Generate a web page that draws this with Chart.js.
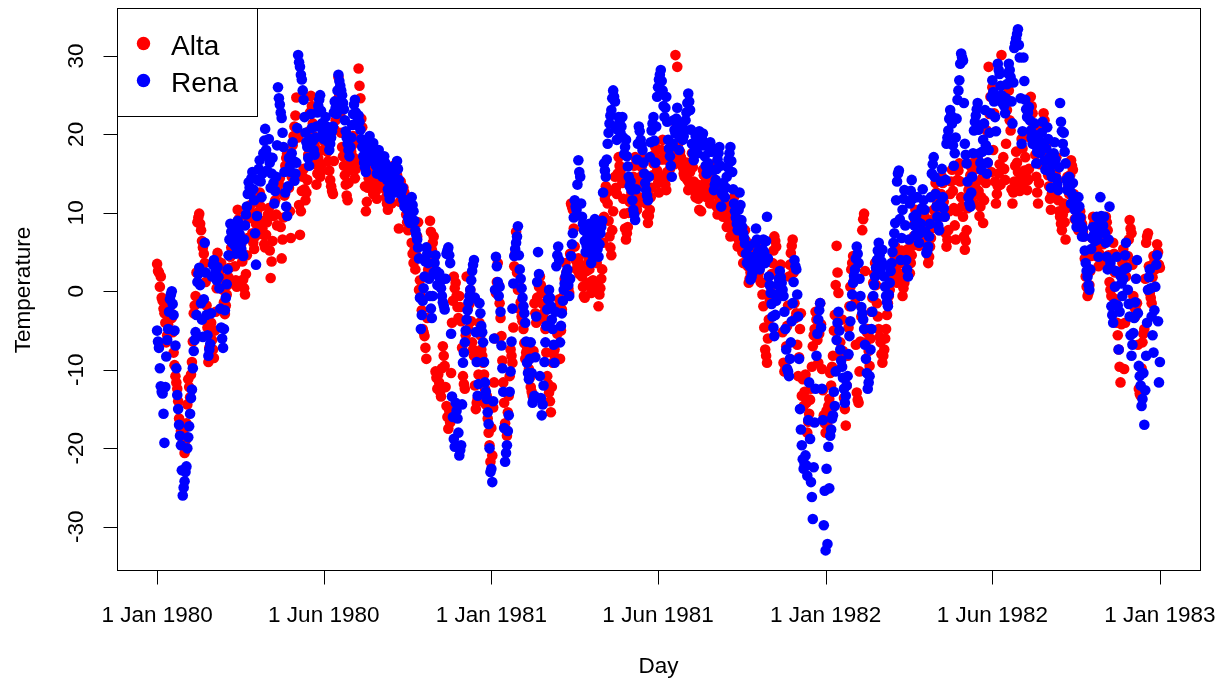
<!DOCTYPE html>
<html>
<head>
<meta charset="utf-8">
<title>Daily temperature: Alta and Rena</title>
<script src="https://cdn.jsdelivr.net/npm/chart.js@4.4.1/dist/chart.umd.min.js"></script>
<style>
  html, body { margin: 0; padding: 0; background: #ffffff; }
  #wrap { width: 1221px; height: 680px; position: relative; }
</style>
</head>
<body>
<div id="wrap"><canvas id="chart" width="1221" height="680"></canvas></div>
<script>
// Daily temperatures at two stations, one reading per day from 1 Jan 1980 to 31 Dec 1982.
const seriesNames = ['Alta', 'Rena'];
const seriesColors = ['#ff0000', '#0000ff'];
const dayStep = 1;

const altaTemps = [
  3.5,2.6, 2.4,0.6, 1.9,-0.8, -1.2,-2.2, -2.8,-4.0, -6.5,-5.6, -4.2,-3.0, -2.0,-1.6, -3.4,-5.2, -7.8,-9.4, -10.8,-11.6,
  -12.4,-14.0, -16.2,-17.0, -17.8,-18.6, -19.3,-17.6, -20.6,-19.0, -16.8,-14.4, -11.2,-12.2, -13.5,-10.6, -9.0,-6.4, -2.8,-1.8, -0.6,2.4,
  8.8,9.4, 9.9,8.6, 7.8,6.4, 5.6,4.8, 3.6,1.2, -1.8,-4.6, -9.0,-7.2, -5.4,-4.0, -6.2,-7.4, -8.5,-5.0, -2.6,0.4,
  4.9,3.8, 2.2,2.9, 3.6,1.6, 0.2,-1.4, -2.9,-1.8, -0.4,0.8, 1.8,3.0, 4.4,5.6, 7.2,6.4, 5.8,3.2, 1.4,0.6,
  10.4,9.2, 8.2,7.0, 6.1,3.8, 1.5,0.4, -0.4,2.2, 4.6,6.8, 9.3,10.2, 11.0,9.6, 7.4,6.2, 5.4,7.0, 8.6,10.0,
  11.4,12.2, 12.6,10.8, 9.0,8.0, 7.2,6.0, 5.6,7.2, 8.8,9.8, 10.6,5.2, 1.7,3.8, 6.4,9.6, 13.0,11.6, 9.8,8.4,
  12.7,13.6, 14.4,8.2, 4.2,6.6, 9.4,12.2, 16.0,17.0, 17.6,15.4, 13.2,10.2, 6.8,14.6, 18.6,19.8, 21.0,22.4, 24.7,20.2,
  19.6,11.0, 7.2,10.2, 12.8,14.6, 15.6,13.0, 11.6,12.6, 14.2,17.4, 20.4,22.8, 24.9,23.6, 21.4,19.8, 18.6,16.2, 13.6,15.0,
  17.0,15.8, 14.6,15.2, 16.2,18.0, 19.2,20.2, 21.0,19.4, 17.8,16.6, 15.4,14.2, 13.4,12.8, 12.4,16.6, 20.6,21.8, 22.7,24.4,
  27.3,25.0, 22.4,20.2, 18.4,17.2, 16.0,14.8, 13.6,12.2, 11.6,13.8, 15.4,16.4, 17.8,18.6, 19.8,17.0, 14.4,15.6, 16.6,19.0,
  28.4,26.2, 24.6,22.0, 20.9,18.4, 16.6,13.4, 10.2,11.4, 13.2,14.4, 15.0,16.2, 17.1,15.2, 12.4,13.6, 14.6,12.8, 11.8,13.4,
  15.6,14.6, 13.8,15.8, 17.0,15.6, 14.4,13.0, 12.0,11.2, 10.4,12.0, 13.2,12.4, 11.2,14.0, 16.0,14.6, 12.8,13.6, 14.8,13.2,
  8.0,11.4, 14.0,12.8, 11.8,13.2, 12.6,11.0, 9.8,8.8, 7.8,9.4, 10.8,8.4, 6.2,4.8, 3.6,5.2, 2.8,4.6, 7.0,8.8,
  0.2,1.4, -0.6,-2.4, -4.8,-5.2, -5.7,-7.2, -8.6,-3.4, 2.8,5.6, 9.0,7.6, 5.3,6.2, 7.0,4.4, -10.2,-11.0, -12.4,-10.6,
  -11.6,-12.8, -13.4,-9.8, -7.0,-8.2, -9.5,-12.2, -14.6,-16.0, -17.5,-15.2, -16.7,-10.4, -4.0,-1.2, 1.9,0.4, 1.1,-0.6, -2.0,-3.4,
  -0.6,-2.0, -3.8,-7.2, -10.8,-11.8, -12.4,-5.6, 1.9,-2.2, -4.8,-1.6, 0.2,-3.8, -6.5,-7.4, -8.2,-12.0, -15.0,-14.2, -13.7,-10.6,
  -4.0,-5.6, -7.4,-8.2, -9.1,-10.6, -12.4,-14.4, -13.3,-16.2, -18.0,-19.6, -21.7,-17.4, -20.9,-14.8, -11.6,-6.0, -0.2,1.2, 3.6,0.8,
  -1.5,-3.4, -5.7,-8.8, -11.6,-14.2, -16.8,-17.6, -18.4,-15.4, -13.3,-10.8, -7.4,-8.2, -9.1,-4.6, 3.2,4.8, 7.6,2.4, 0.2,-2.2,
  0.6,-1.4, -3.2,-3.8, -4.8,-6.6, -8.6,-7.8, -7.4,-8.8, -9.9,-11.0, -12.2,-12.8, -13.3,-7.6, -1.5,-2.8, -4.0,-0.8, 1.2,0.6,
  1.9,0.8, -0.2,-1.6, -2.8,-3.6, -4.8,-7.8, -10.8,-11.8, -12.9,-14.0, -15.4,-12.2, -9.1,-8.0, -7.4,-8.8, -8.6,-5.4, -2.0,-1.0,
  -8.6,-5.0, -2.3,-1.2, -0.6,1.6, 3.6,2.4, 1.2,0.4, -0.2,4.8, 11.2,10.8, 10.4,8.0, 5.7,4.0, 2.8,3.4, 4.2,2.2,
  3.4,2.6, 1.9,0.6, -0.6,-0.8, 0.8,2.6, 4.6,3.8, 2.8,1.2, -0.2,0.4, 1.4,4.2, 7.0,5.4, 3.6,1.0, -1.9,-0.4,
  0.4,1.6, 2.8,6.2, 9.5,11.8, 13.4,12.6, 11.2,9.0, 7.0,5.6, 4.6,7.8, 10.2,12.8, 14.6,13.2, 12.4,15.0, 17.1,16.0,
  15.2,14.4, 13.8,11.8, 9.9,8.0, 6.6,7.4, 8.2,10.0, 11.4,12.0, 12.6,13.8, 14.6,16.0, 17.1,13.6, 10.4,11.2, 12.0,13.6,
  14.6,15.8, 17.1,14.4, 12.0,11.6, 11.2,9.8, 8.7,9.6, 10.4,12.0, 13.2,14.8, 16.3,17.4, 18.4,16.8, 15.4,13.8, 12.6,14.2,
  16.8,18.0, 19.3,16.8, 14.6,13.6, 12.9,15.2, 17.6,16.6, 15.6,17.2, 18.8,18.0, 17.0,16.2, 30.1,21.4, 28.6,20.2, 19.0,17.8,
  17.1,16.2, 15.8,15.0, 14.6,15.6, 16.4,14.2, 12.9,13.8, 15.2,16.4, 17.6,15.8, 14.0,12.8, 12.0,12.6, 13.6,11.8, 10.4,12.2,
  10.2,13.0, 15.5,14.8, 13.8,12.6, 12.0,13.2, 14.6,12.8, 11.2,12.2, 13.0,14.4, 16.2,14.0, 12.4,10.8, 9.8,10.6, 11.6,12.8,
  12.9,11.0, 9.5,10.4, 11.4,9.8, 8.2,9.2, 10.6,8.8, 7.0,8.0, 9.1,10.4, 12.0,10.2, 8.6,7.0, 5.7,6.6, 7.8,6.2,
  6.8,5.0, 3.6,5.8, 7.8,6.4, 5.2,3.2, 1.1,1.6, 2.4,3.8, 4.8,4.2, 3.6,5.0, 6.0,4.0, 1.8,2.4, 3.0,1.2,
  1.1,-0.4, -1.9,-4.6, -7.4,-8.2, -9.1,-6.0, -3.6,-1.2, 0.6,2.2, 3.6,5.2, 7.0,6.4, 5.7,2.6, -0.6,0.8, 2.0,3.4,
  -0.2,-5.2, -9.1,-10.2, -9.5,-7.0, -4.4,-1.8, 1.9,3.4, 4.9,5.8, 6.6,2.4, -1.5,-3.4, -2.8,-6.8, -10.8,-8.4, -4.8,-2.8,
  -13.3,-11.2, -14.6,-12.8, -10.6,-14.2, -18.0,-16.6, -15.6,-13.8, -12.4,-9.6, -7.0,-5.6, -4.8,-2.6, -3.6,-6.2, -9.1,-5.4, -1.5,-4.2,
  -9.9,-12.6, -15.8,-16.8, -18.0,-15.2, -17.1,-14.6, -13.7,-10.4, -12.0,-9.6, -8.2,-5.0, -3.0,0.8, 5.8,2.4, -0.2,-3.6, -6.5,-8.0,
  -3.6,-7.6, -13.6,-15.0, -17.1,-12.0, -8.2,-4.6, -1.9,0.6, 2.8,3.6, 4.5,1.4, -1.5,-6.8, -12.9,-13.8, -14.2,-10.2, -6.4,-3.2,
  7.8,9.2, 9.9,2.6, -6.5,-5.2, -4.8,-7.6, -9.5,-6.0, -2.6,-0.8, 1.1,2.2, 3.6,0.8, -1.5,-3.2, -4.8,-5.8, -6.5,-8.0,
  -9.1,-8.2, -7.4,-6.0, -4.8,-3.0, -1.5,-0.6, 0.2,1.4, 2.2,3.0, 3.6,4.6, 5.7,3.2, 1.1,1.8, 2.3,3.6, 4.4,5.2,
  -0.6,0.4, 1.1,2.4, 3.2,4.4, 5.4,3.8, 2.3,3.6, 4.6,5.8, 7.0,8.6, 10.4,9.2, 8.2,6.8, 5.8,7.4, 9.0,8.0,
  7.0,8.4, 9.6,7.6, 6.2,4.8, 3.6,4.4, 5.7,6.8, 8.0,9.2, 10.4,12.2, 13.8,12.6, 11.2,9.4, 7.8,10.6, 12.4,14.6,
  13.8,11.4, 9.5,7.4, 5.7,6.6, 7.8,10.2, 12.4,14.0, 15.5,12.8, 10.6,8.4, 6.6,10.2, 14.2,15.4, 16.3,14.0, 12.0,10.8,
  9.5,7.0, 5.3,6.4, 7.8,10.6, 12.9,13.6, 14.8,15.8, 16.3,13.4, 11.2,12.4, 13.8,15.6, 17.1,12.8, 9.6,10.8, 12.0,14.4,
  8.7,11.6, 14.6,13.8, 20.5,16.4, 28.6,22.6, 24.8,15.2, 26.0,18.0, 22.7,14.0, 11.2,12.4, 13.4,15.0, 16.2,13.6, 30.1,24.2,
  17.1,15.6, 14.2,18.8, 23.1,24.2, 25.6,21.8, 20.5,13.0, 11.2,12.6, 14.0,16.0, 17.8,16.4, 15.2,13.8, 12.8,14.8, 19.4,18.2,
  13.8,15.4, 17.1,14.6, 12.9,14.2, 15.6,19.6, 24.8,23.6, 22.7,21.2, 20.5,17.4, 14.6,12.6, 11.2,13.8, 16.2,18.6, 21.2,17.6,
  22.7,21.8, 20.9,18.6, 16.4,14.8, 13.4,11.8, 10.4,12.4, 14.6,13.2, 12.2,15.0, 17.1,14.2, 11.6,10.2, 9.5,8.6, 7.8,9.8,
  11.2,8.8, 6.6,10.6, 14.6,13.4, 12.4,14.8, 16.7,16.0, 15.5,12.4, 9.2,10.4, 11.8,9.6, 7.8,8.8, 10.2,9.4, 8.6,7.6,
  7.0,4.2, 1.9,0.6, -0.6,-0.2, 0.8,2.6, 4.5,6.8, 9.5,8.6, 7.8,6.6, 5.6,4.4, 3.2,4.8, 6.2,7.4, 8.4,6.0,
  3.6,6.8, 9.5,8.8, 7.8,4.6, 1.2,0.2, -0.6,2.8, 6.2,4.8, 2.4,-1.0, -4.0,-5.6, -7.4,-9.6, -11.6,-4.2, 3.6,5.4,
  -9.9,-4.0, 1.9,3.2, 4.5,6.6, 9.1,8.0, 7.4,3.4, -0.6,-2.0, -3.2,-2.4, -1.5,-6.8, -12.4,-13.0, -13.3,-9.8, -6.5,-5.4,
  -4.8,1.6, 6.2,7.0, 7.4,3.2, -0.2,-0.8, -1.5,1.8, 4.5,3.8, 2.8,4.6, 6.0,5.0, 3.4,3.0
];

const renaTemps = [
  -5.0,-6.4, -7.2,-9.8, -12.1,-12.8, -13.0,-15.6, -19.3,-12.2, -8.3,-6.2, -4.8,-2.6, -1.0,-0.4, 0.0,-1.6, -3.0,-5.0, -6.9,-9.8,
  -13.2,-15.0, -17.0,-18.4, -19.6,-22.8, -26.0,-25.0, -24.2,-23.0, -22.3,-20.0, -18.6,-17.2, -15.6,-13.6, -12.5,-9.8, -7.6,-6.2, -5.2,-3.0,
  1.2,2.2, 3.0,0.8, -1.5,-3.6, -5.8,-1.0, 6.2,2.4, -3.0,-5.6, -8.2,-7.4, -6.7,-2.8, 1.9,3.4, 4.0,3.2, 2.6,1.4,
  3.1,1.8, 0.4,-2.2, -4.6,-6.0, -7.2,-4.8, -2.4,-0.8, 0.9,2.8, 4.6,6.6, 8.6,7.6, 6.2,6.8, 7.4,5.8, 4.8,6.4,
  9.0,8.2, 7.3,6.0, 5.4,4.8, 4.5,6.6, 8.4,9.8, 10.8,12.4, 13.9,13.2, 12.6,14.4, 15.2,13.0, 11.6,7.4, 3.4,9.6,
  14.2,15.6, 16.7,14.0, 12.0,15.0, 17.6,19.2, 20.7,18.0, 15.4,17.2, 19.4,16.4, 13.2,15.0, 17.0,13.8, 11.2,12.8, 14.6,18.6,
  26.0,24.6, 23.8,22.8, 22.1,20.2, 18.4,15.2, 12.6,10.8, 9.6,13.4, 17.0,16.0, 15.2,17.6, 19.0,16.6, 14.1,15.0, 16.4,20.8,
  30.1,29.2, 28.6,27.6, 27.0,25.6, 24.4,22.2, 20.2,19.0, 18.4,17.0, 16.0,19.4, 22.6,20.8, 19.2,18.0, 17.4,19.6, 21.0,22.8,
  23.6,24.4, 25.0,23.0, 21.4,20.2, 19.4,20.8, 22.2,21.0, 20.3,19.0, 18.0,18.8, 19.6,20.4, 21.0,22.8, 24.2,23.4, 22.6,25.6,
  27.6,26.8, 26.2,25.6, 25.0,24.0, 23.2,21.8, 20.4,19.6, 18.8,18.0, 17.2,18.4, 19.6,21.2, 22.6,23.8, 24.4,22.8, 21.2,22.0,
  22.4,21.6, 20.6,19.4, 18.4,17.2, 16.4,15.8, 15.2,16.6, 17.8,18.8, 19.8,18.2, 16.6,17.6, 18.9,18.0, 17.2,16.0, 15.0,16.2,
  18.0,17.0, 16.2,15.4, 14.6,16.0, 17.2,16.4, 15.4,14.2, 13.0,12.4, 11.8,13.6, 15.8,15.0, 14.2,13.2, 12.6,14.4, 16.6,15.6,
  14.2,13.4, 12.4,12.8, 13.2,11.6, 10.8,11.2, 11.6,10.4, 9.4,9.0, 8.7,10.6, 12.0,11.0, 10.2,9.0, 7.8,7.2, 6.6,5.6,
  4.2,-0.8, -4.8,-3.0, -1.2,0.4, 1.9,3.8, 5.6,4.8, 3.6,1.6, -0.6,-2.2, -3.4,-0.6, 2.4,3.6, 4.6,2.6, 0.8,2.0,
  2.3,1.2, 0.4,-0.6, -1.4,-1.8, -2.3,1.6, 4.8,5.2, 5.6,4.6, 3.6,-5.4, -13.4,-16.0, -18.8,-19.8, -14.2,-15.2, -16.2,-18.0,
  -20.9,-20.2, -19.6,-14.4, -9.1,-7.8, -6.5,-5.0, -3.6,-2.4, -1.4,-0.6, 0.2,1.4, 2.6,3.4, 4.0,-0.8, -5.2,-9.0, -13.3,-11.8,
  -1.5,-2.8, -4.4,-5.2, -6.5,-9.0, -11.6,-12.8, -13.7,-15.4, -16.9,-20.0, -23.0,-22.6, -24.3,-14.0, -6.0,0.2, 4.4,3.2, 1.2,-0.6,
  0.6,-2.6, -6.9,-9.8, -12.8,-17.4, -21.7,-20.6, -19.6,-17.8, -15.8,-12.8, -10.2,-6.4, -2.2,1.0, 4.5,5.4, 6.2,7.0, 8.3,4.6,
  2.8,1.6, 0.4,-0.8, -1.9,-2.8, -4.0,-6.4, -9.1,-10.4, -11.2,-8.6, -6.5,-10.4, -14.2,-13.8, -13.3,-8.4, -3.2,1.2, 5.0,2.2,
  -10.8,-13.6, -15.8,-14.4, -12.0,-9.0, -6.5,-4.4, -2.3,-1.0, 0.2,-0.8, -1.9,-3.6, -4.8,-6.8, -9.1,-2.6, 3.2,4.6, 5.7,4.0,
  -6.5,-4.4, -2.8,-1.2, 0.2,1.0, 1.9,2.4, 2.8,0.8, -0.6,1.6, 4.5,6.0, 7.4,9.4, 11.6,10.8, 10.4,13.6, 16.7,15.2,
  14.6,11.2, 9.5,8.6, 7.8,6.4, 5.0,5.8, 7.0,7.8, 8.6,6.2, 3.6,4.6, 5.7,7.4, 9.2,8.2, 6.4,5.4, 4.4,6.0,
  7.4,8.2, 9.0,12.6, 16.3,15.4, 14.6,16.8, 18.8,20.2, 21.4,22.4, 23.1,24.6, 25.6,24.8, 24.2,21.0, 19.3,20.6, 22.2,21.6,
  20.2,21.0, 22.2,19.6, 17.5,18.4, 19.3,17.2, 15.9,14.6, 13.4,14.0, 12.9,11.6, 10.4,9.8, 9.1,13.0, 16.8,18.8, 21.0,20.4,
  19.3,18.6, 18.0,16.4, 15.0,13.8, 12.9,12.2, 11.6,14.6, 17.1,19.0, 20.5,21.4, 22.2,19.2, 16.4,21.0, 24.8,26.0, 27.0,27.6,
  28.2,26.8, 25.6,23.6, 22.2,23.4, 24.8,21.6, 19.3,18.2, 17.2,16.0, 14.6,18.8, 21.8,20.6, 20.1,22.0, 23.4,20.8, 18.0,19.6,
  21.4,20.2, 19.3,19.8, 20.6,21.8, 22.8,24.0, 25.2,24.2, 23.1,20.6, 18.8,17.6, 16.7,18.4, 19.8,18.6, 17.6,19.0, 20.4,19.2,
  18.6,19.4, 20.1,18.6, 17.2,16.0, 15.0,15.6, 16.3,17.8, 19.0,18.4, 17.8,15.4, 12.9,13.6, 14.2,15.6, 16.8,17.6, 18.4,16.0,
  10.8,12.4, 13.8,13.0, 12.0,13.2, 14.6,15.8, 16.8,17.6, 18.4,16.6, 15.2,13.0, 11.2,10.2, 9.4,8.6, 7.8,10.4, 12.6,11.0,
  9.1,8.2, 7.4,6.8, 6.1,4.8, 3.6,4.6, 5.7,3.2, 1.5,1.8, 2.3,3.4, 4.4,6.2, 8.0,6.6, 5.0,3.8, 2.8,3.6,
  4.6,5.4, 6.6,5.0, 3.6,6.4, 9.5,4.2, 1.9,0.8, -0.2,-1.6, -3.2,-4.6, -5.7,-3.0, -1.2,-0.4, 0.8,1.6, 2.6,1.8,
  1.1,0.2, -0.6,-2.6, -4.8,-7.4, -9.9,-10.2, -10.8,-8.6, -6.5,-3.8, -1.5,1.2, 4.0,3.2, 2.8,-0.4, -3.2,-8.6, -15.0,-17.6,
  -19.6,-21.4, -22.6,-22.0, -20.9,-22.2, -23.5,-16.4, -11.6,-18.8, -24.3,-26.2, -29.0,-22.4, -16.7,-12.4, -8.2,-5.4, -3.6,-2.4, -1.5,-4.6,
  -12.4,-16.4, -29.8,-25.4, -33.0,-22.6, -32.2,-19.8, -25.1,-18.4, -17.6,-16.2, -15.8,-12.8, -14.6,-10.2, -6.2,-4.0, -2.6,-5.0, -7.4,-8.8,
  -9.6,-11.0, -12.4,-14.2, -13.3,-12.0, -10.8,-8.0, -5.7,-3.8, -1.9,-0.4, 1.1,2.0, 2.8,4.2, 5.7,4.8, 3.6,1.6, -0.6,-2.0,
  -2.8,-3.6, -4.8,-6.8, -8.6,-10.4, -12.4,-11.6, -10.8,-7.4, -4.8,-2.6, -0.6,0.8, 1.9,3.0, 4.0,5.2, 6.2,4.6, 2.8,3.8,
  5.3,3.4, 1.9,0.6, -0.6,-1.4, -1.9,-0.4, 1.1,2.6, 3.6,5.0, 6.2,7.4, 8.7,11.6, 14.0,15.0, 15.4,9.2, 4.0,6.8,
  10.4,11.8, 12.9,8.4, 4.0,2.8, 1.9,6.6, 11.2,12.8, 14.2,11.8, 9.5,8.4, 7.2,9.8, 12.0,8.8, 6.2,7.4, 8.6,10.6,
  13.0,11.6, 10.4,7.6, 4.9,5.2, 5.7,7.0, 8.6,12.0, 15.0,16.2, 17.1,14.6, 12.4,10.8, 9.5,8.4, 7.8,11.2, 14.0,15.6,
  12.0,10.6, 9.5,14.2, 18.8,19.6, 20.5,22.0, 23.1,22.4, 21.4,18.6, 16.0,17.6, 19.6,22.0, 24.4,25.6, 26.9,29.0, 30.3,29.8,
  29.4,24.0, 18.8,17.4, 16.3,14.0, 12.0,11.2, 10.8,12.6, 14.6,17.6, 20.5,21.6, 22.4,23.2, 24.0,20.6, 17.6,16.4, 15.5,17.8,
  19.3,21.4, 23.1,18.6, 15.0,16.4, 18.0,20.2, 22.7,24.8, 26.9,25.4, 24.2,22.2, 20.4,24.6, 29.0,28.2, 27.7,26.2, 25.0,24.0,
  24.8,23.6, 22.7,24.6, 26.4,27.8, 29.0,28.2, 27.3,24.2, 21.4,26.6, 31.0,31.6, 32.2,32.8, 33.4,31.4, 29.8,24.6, 18.8,20.4,
  29.8,26.8, 24.4,23.2, 22.2,22.8, 23.5,21.8, 20.5,19.6, 18.8,20.0, 21.4,18.6, 16.3,17.8, 19.8,18.4, 17.6,19.0, 20.2,21.6,
  18.4,16.6, 15.5,18.2, 20.9,19.4, 17.0,15.2, 13.2,14.6, 16.2,17.6, 19.0,16.8, 14.4,13.6, 12.9,15.8, 24.0,21.6, 20.4,18.8,
  20.2,17.8, 16.3,14.2, 12.9,13.6, 14.6,12.8, 11.2,12.4, 13.8,11.8, 10.4,9.2, 8.2,10.6, 12.0,10.8, 9.4,8.4, 7.0,8.0,
  7.0,5.2, 3.6,2.6, 1.9,0.8, 0.2,2.8, 5.4,6.8, 8.2,7.2, 6.4,8.0, 9.5,6.6, 4.4,8.8, 12.0,9.6, 7.6,8.4,
  9.5,7.4, 6.2,4.4, 2.8,6.6, 10.8,3.6, -1.9,-3.0, -4.0,-1.6, 0.6,2.6, 4.4,-1.8, -7.4,-2.6, 2.0,1.0, -0.6,1.6,
  2.8,4.6, 6.2,3.0, 0.2,-1.6, -3.2,-5.6, -8.2,-6.8, -5.3,-3.4, -1.4,1.6, 4.0,-2.8, -9.5,-10.8, -12.0,-14.6, -13.7,-10.4,
  -17.0,-12.6, -8.2,-4.0, 0.2,1.8, 2.8,0.4, -3.2,-5.6, -7.8,-2.4, 0.6,3.4, 4.6,-3.8, -11.6,-9.0
];

// Axis ticks (x in days since 1 Jan 1980)
const xTickDays = [0, 182, 365, 547, 730, 912, 1095];
const xTickLabels = ['1 Jan 1980', '1 Jun 1980', '1 Jan 1981', '1 Jun 1981', '1 Jan 1982', '1 Jun 1982', '1 Jan 1983'];
const yTickValues = [-30, -20, -10, 0, 10, 20, 30];
const xTitle = 'Day';
const yTitle = 'Temperature';

function toPoints(temps) {
  return temps.map((t, i) => ({ x: i * dayStep, y: t }));
}

const FONT = '"Liberation Sans", Arial, Helvetica, sans-serif';

// Base-graphics style frame: box, outward ticks, rotated y labels, boxed legend.
const framePlugin = {
  id: 'baseFrame',
  afterDraw(chart) {
    const ctx = chart.ctx;
    const a = chart.chartArea;
    const xs = chart.scales.x;
    const ys = chart.scales.y;
    const tickLen = 14;
    ctx.save();
    ctx.strokeStyle = '#000000';
    ctx.fillStyle = '#000000';
    ctx.lineWidth = 1;

    const L = Math.round(a.left) + 0.5, R = Math.round(a.right) + 0.5;
    const T = Math.round(a.top) + 0.5, B = Math.round(a.bottom) + 0.5;
    ctx.strokeRect(L, T, R - L, B - T);

    // x axis
    ctx.beginPath();
    xTickDays.forEach(d => {
      const px = Math.round(xs.getPixelForValue(d)) + 0.5;
      ctx.moveTo(px, B);
      ctx.lineTo(px, B + tickLen);
    });
    ctx.stroke();
    ctx.font = '22.5px ' + FONT;
    ctx.textAlign = 'center';
    ctx.textBaseline = 'alphabetic';
    xTickDays.forEach((d, i) => {
      ctx.fillText(xTickLabels[i], xs.getPixelForValue(d), 621.5);
    });
    ctx.fillText(xTitle, (a.left + a.right) / 2, 673);

    // y axis
    ctx.beginPath();
    yTickValues.forEach(v => {
      const py = Math.round(ys.getPixelForValue(v)) + 0.5;
      ctx.moveTo(L, py);
      ctx.lineTo(L - tickLen, py);
    });
    ctx.stroke();
    yTickValues.forEach(v => {
      ctx.save();
      ctx.translate(83, ys.getPixelForValue(v));
      ctx.rotate(-Math.PI / 2);
      ctx.fillText(String(v), 0, 0);
      ctx.restore();
    });
    ctx.save();
    ctx.translate(30, (a.top + a.bottom) / 2 + 1);
    ctx.rotate(-Math.PI / 2);
    ctx.fillText(yTitle, 0, 0);
    ctx.restore();

    // legend
    const box = { x: L, y: T, w: 140, h: 108 };
    ctx.fillStyle = '#ffffff';
    ctx.fillRect(box.x, box.y, box.w, box.h);
    ctx.strokeRect(box.x, box.y, box.w, box.h);
    ctx.font = '28px ' + FONT;
    ctx.textAlign = 'left';
    const rows = [{ dotY: 43.5, textY: 55 }, { dotY: 80.5, textY: 91.7 }];
    chart.data.datasets.forEach((ds, i) => {
      ctx.fillStyle = ds.backgroundColor;
      ctx.beginPath();
      ctx.arc(143.5, rows[i].dotY, 6.7, 0, Math.PI * 2);
      ctx.fill();
      ctx.fillStyle = '#000000';
      ctx.fillText(ds.label, 171, rows[i].textY);
    });
    ctx.restore();
  }
};

new Chart(document.getElementById('chart'), {
  type: 'scatter',
  data: {
    datasets: [
      {
        label: seriesNames[0],
        data: toPoints(altaTemps),
        backgroundColor: seriesColors[0],
        borderWidth: 0,
        pointRadius: 5.3,
        order: 2
      },
      {
        label: seriesNames[1],
        data: toPoints(renaTemps),
        backgroundColor: seriesColors[1],
        borderWidth: 0,
        pointRadius: 5.3,
        order: 1
      }
    ]
  },
  options: {
    responsive: false,
    devicePixelRatio: 1,
    animation: false,
    events: [],
    layout: { padding: { left: 117, top: 8, right: 21, bottom: 110 } },
    plugins: {
      legend: { display: false },
      tooltip: { enabled: false },
      title: { display: false }
    },
    scales: {
      x: { type: 'linear', min: -43.8, max: 1138.8, display: false },
      y: { type: 'linear', min: -35.5, max: 36.1, display: false }
    }
  },
  plugins: [framePlugin]
});
</script>
</body>
</html>
